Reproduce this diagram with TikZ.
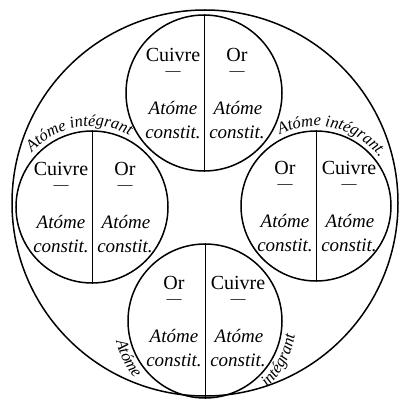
\documentclass[tikz,border=0pt]{standalone}
\usepackage{fontspec}
\setmainfont{Liberation Serif}
\usetikzlibrary{decorations.text,calc}
\tikzset{
  ring/.style={draw, circle, line width=1.5pt, inner sep=0pt},
  outerring/.style={line width=1.5pt},
  divider/.style={line width=0.9pt},
  elem/.style={font=\fontsize{20}{20}\selectfont, inner sep=0pt},
  bar/.style={font=\fontsize{15}{15}\selectfont, inner sep=0pt},
  desc/.style={font=\fontsize{19}{19}\selectfont\itshape, inner sep=0pt},
  arclabel/.style={decorate, decoration={text along path, text align=center,
      text={|\fontsize{16.5}{16.5}\selectfont\itshape|#1}}}
}
\newcommand\atomcell[5]{%
  \node[ring, minimum size=#3] (#1) at #2 {};
  \draw[divider] (#1.north) -- (#1.south);
  \node[elem] (#1-ln) at ($(#1.center)+(-31,38)$) {#4};
  \node[bar]  (#1-lb) at ($(#1.center)+(-31,19)$) {—};
  \node[desc] (#1-la) at ($(#1.center)+(-31,-15)$) {Atóme};
  \node[desc] (#1-lc) at ($(#1.center)+(-31,-39)$) {constit.};
  \node[elem] (#1-rn) at ($(#1.center)+(33,38)$) {#5};
  \node[bar]  (#1-rb) at ($(#1.center)+(33,19)$) {—};
  \node[desc] (#1-ra) at ($(#1.center)+(34,-15)$) {Atóme};
  \node[desc] (#1-rc) at ($(#1.center)+(33,-39)$) {constit.};
}
\begin{document}
\begin{tikzpicture}[x=1pt,y=1pt]
  \useasboundingbox (0,0) rectangle (401,402);
  \fill[white] (0,0) rectangle (401,402);
  \coordinate (O) at (205,199);
  \draw[outerring] (O) circle[radius=193];
  \atomcell{T}{(204,309)}{156pt}{Cuivre}{Or}
  \atomcell{L}{(92,195)}{152pt}{Cuivre}{Or}
  \atomcell{R}{(316,196)}{150pt}{Or}{Cuivre}
  \atomcell{B}{(205,81)}{154pt}{Or}{Cuivre}
  \path[arclabel={Atóme intégrant}] ($(L.center)+(140:81)$) arc[start angle=140, end angle=60, radius=81];
  \path[arclabel={Atóme intégrant.}] ($(R.center)+(120:80)$) arc[start angle=120, end angle=34, radius=80];
  \path[arclabel={Atóme}] ($(B.center)+(184:91)$) arc[start angle=184, end angle=228, radius=91];
  \path[arclabel={intégrant}] ($(B.center)+(306:91)$) arc[start angle=306, end angle=358, radius=91];
\end{tikzpicture}
\end{document}
